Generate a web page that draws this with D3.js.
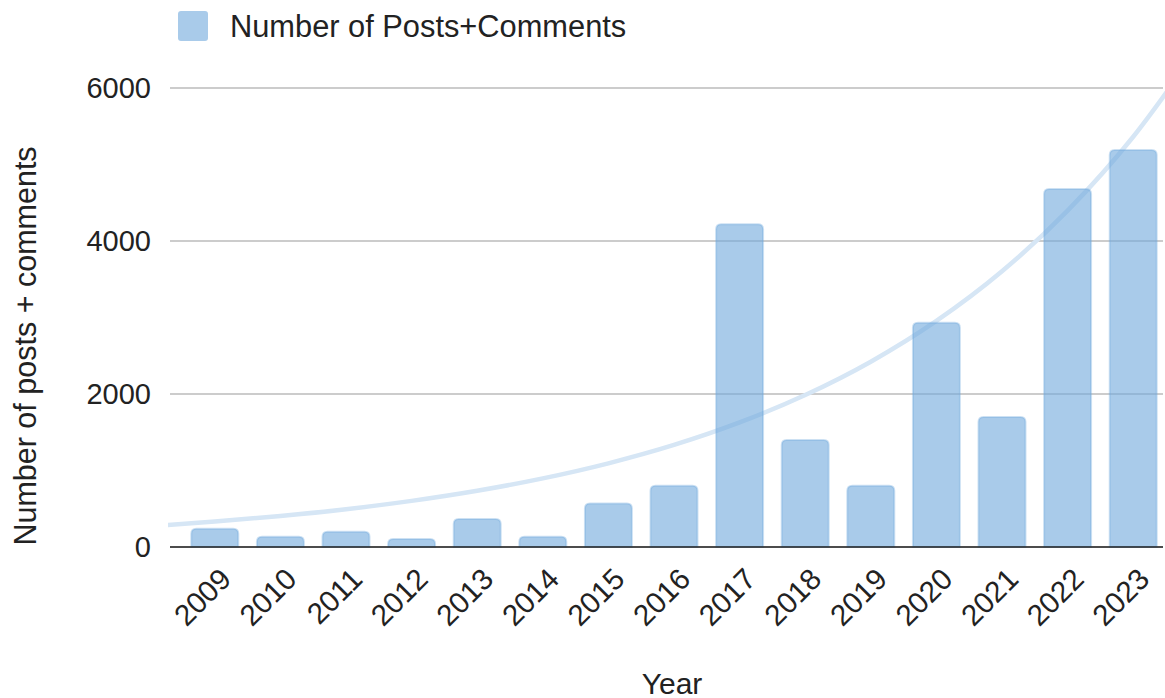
<!DOCTYPE html>
<html>
<head>
<meta charset="utf-8">
<script src="https://cdn.jsdelivr.net/npm/d3@7"></script>
<style>
  body { margin: 0; background: #fff; }
  text { font-family: "Liberation Sans", Arial, sans-serif; fill: #222; }
</style>
</head>
<body>
<div id="chart"></div>
<script>
var svgWidth = 1165;
var svgHeight = 698;

// bar data
var years = ["2009","2010","2011","2012","2013","2014","2015","2016","2017","2018","2019","2020","2021","2022","2023"];
var counts = [240, 135, 200, 105, 366, 135, 570, 800, 4220, 1400, 800, 2930, 1700, 4680, 5190];

// trendline (one point per year, plus one either side)
var trendYears = [2008, 2009, 2010, 2011, 2012, 2013, 2014, 2015, 2016, 2017, 2018, 2019, 2020, 2021, 2022, 2023, 2024];
var trendValues = [272, 332, 405, 494, 603, 735, 897, 1094, 1334, 1628, 1986, 2422, 2955, 3604, 4397, 5363, 6542];

var yTicks = [0, 2000, 4000, 6000];

var plotLeft = 170, plotRight = 1163;

var svg = d3.select("#chart")
  .append("svg")
  .attr("width", svgWidth)
  .attr("height", svgHeight);

var xBand = d3.scaleBand()
  .domain(years)
  .range([182, 1166])
  .paddingInner(0.284)
  .paddingOuter(0.142);

var yScale = d3.scaleLinear()
  .domain([0, 6000])
  .range([547, 88]);

// year -> centre of its bar, so the trend can run past the first and last bar
var xYear = d3.scaleLinear()
  .domain([2009, 2023])
  .range([xBand("2009") + xBand.bandwidth() / 2, xBand("2023") + xBand.bandwidth() / 2]);

// gridlines
svg.append("g")
  .selectAll("line")
  .data(yTicks)
  .enter()
  .append("line")
  .attr("x1", plotLeft)
  .attr("x2", plotRight)
  .attr("y1", d => yScale(d))
  .attr("y2", d => yScale(d))
  .attr("stroke", "#cccccc")
  .attr("stroke-width", 2);

// y tick labels
var leftAxis = d3.axisLeft(yScale).tickValues(yTicks).tickFormat(d3.format("d")).tickSize(0).tickPadding(19);
var yAxisG = svg.append("g")
  .attr("transform", `translate(${plotLeft}, 0)`)
  .call(leftAxis);
yAxisG.select(".domain").remove();
yAxisG.selectAll("text")
  .style("font-size", "29px")
  .style("font-family", "'Liberation Sans', Arial, sans-serif")
  .attr("fill", "#222");

// trendline, clipped to the plot area
svg.append("clipPath")
  .attr("id", "plotClip")
  .append("rect")
  .attr("x", plotLeft - 2)
  .attr("y", 0)
  .attr("width", svgWidth - plotLeft + 2)
  .attr("height", 560);

var trendLine = d3.line()
  .x((d, i) => xYear(trendYears[i]))
  .y(d => yScale(d))
  .curve(d3.curveMonotoneX);

svg.append("path")
  .datum(trendValues)
  .attr("clip-path", "url(#plotClip)")
  .attr("d", trendLine)
  .attr("fill", "none")
  .attr("stroke", "#d6e6f5")
  .attr("stroke-width", 4.5);

// bars with rounded tops
function topRounded(x, y, w, h, r) {
  r = Math.min(r, h, w / 2);
  return `M${x},${y + h}V${y + r}Q${x},${y} ${x + r},${y}H${x + w - r}Q${x + w},${y} ${x + w},${y + r}V${y + h}Z`;
}

svg.append("g")
  .selectAll("path")
  .data(counts)
  .enter()
  .append("path")
  .attr("d", (d, i) => topRounded(xBand(years[i]), yScale(d), xBand.bandwidth(), yScale(0) - yScale(d), 5))
  .attr("fill", "rgb(111,168,220)")
  .attr("fill-opacity", 0.6)
  .attr("stroke", "rgb(111,168,220)")
  .attr("stroke-opacity", 0.35)
  .attr("stroke-width", 2);

// baseline
svg.append("line")
  .attr("x1", plotLeft)
  .attr("x2", plotRight)
  .attr("y1", yScale(0))
  .attr("y2", yScale(0))
  .attr("stroke", "#222")
  .attr("stroke-width", 1.6);

// x labels rotated
var bottomAxis = d3.axisBottom(xBand).tickSize(0).tickPadding(0);
var xAxisG = svg.append("g")
  .attr("transform", `translate(0, ${yScale(0)})`)
  .call(bottomAxis);
xAxisG.select(".domain").remove();
xAxisG.selectAll("text")
  .style("font-size", "29.5px")
  .style("font-family", "'Liberation Sans', Arial, sans-serif")
  .attr("fill", "#222")
  .attr("text-anchor", "end")
  .attr("dy", 0)
  .attr("transform", "translate(18, 34) rotate(-45)");

// axis titles
svg.append("text")
  .attr("x", 672)
  .attr("y", 694)
  .attr("text-anchor", "middle")
  .style("font-size", "30px")
  .text("Year");

svg.append("text")
  .attr("transform", "translate(36, 346) rotate(-90)")
  .attr("text-anchor", "middle")
  .style("font-size", "30.5px")
  .text("Number of posts + comments");

// legend
var legend = svg.append("g");
legend.append("rect")
  .attr("x", 178)
  .attr("y", 11)
  .attr("width", 30)
  .attr("height", 30)
  .attr("rx", 3)
  .attr("fill", "rgb(111,168,220)")
  .attr("fill-opacity", 0.6);
legend.append("text")
  .attr("x", 230)
  .attr("y", 37)
  .style("font-size", "30.8px")
  .text("Number of Posts+Comments");
</script>
</body>
</html>
